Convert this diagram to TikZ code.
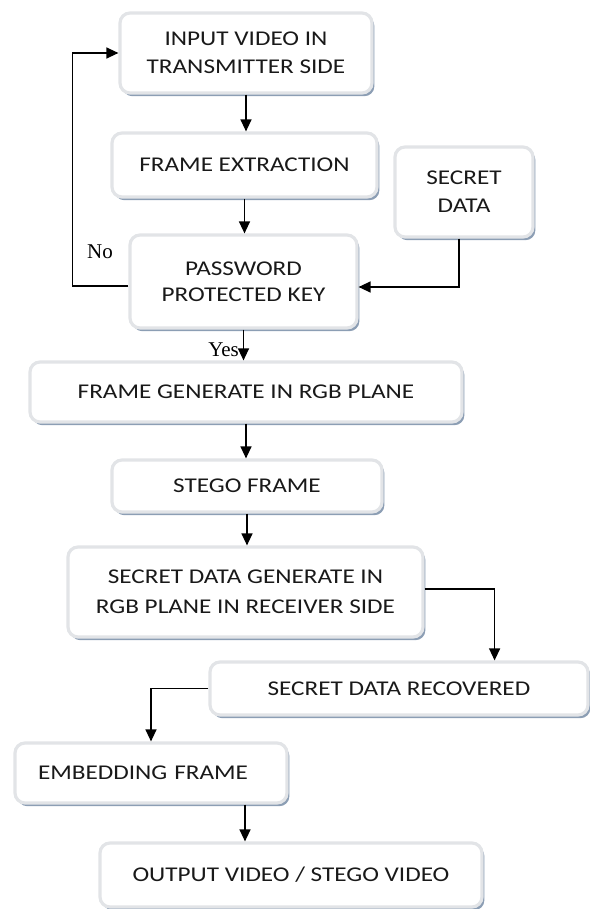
\documentclass[tikz,border=0pt]{standalone}
\usepackage{fontspec}
\setmainfont{Carlito}[FakeStretch=1.2]
\newfontfamily\lblfont{Liberation Serif}
\usetikzlibrary{arrows.meta,shadows}

\definecolor{boxedge}{RGB}{226,228,231}
\definecolor{boxshade}{RGB}{140,158,180}

\tikzset{
  blk/.style={draw=boxedge, line width=1.6pt, fill=white, rounded corners=5pt,
    drop shadow={shadow xshift=1.2pt, shadow yshift=-1.6pt, fill=boxshade, opacity=1},
    align=center, inner sep=2pt, text=black!90,
    font=\fontsize{10.5}{14}\selectfont},
  arr/.style={-{Triangle[length=6pt,width=5.5pt]}, line width=0.65pt},
  lbl/.style={font=\lblfont\fontsize{10.5}{12}\selectfont, inner sep=2pt}
}

\begin{document}
\begin{tikzpicture}[x=0.5pt, y=-0.5pt]
  \useasboundingbox (0,0) rectangle (589,909);

  % Transmitter side boxes
  \node[blk, minimum width=126pt, minimum height=40pt] (input) at (246,53) {INPUT VIDEO IN\\TRANSMITTER SIDE};
  \node[blk, minimum width=132.5pt, minimum height=32pt] (frameex) at (244.5,165) {FRAME EXTRACTION};
  \node[blk, minimum width=69pt, minimum height=45pt] (secret) at (464,192) {SECRET\\DATA};
  \node[blk, minimum width=113.5pt, minimum height=46.5pt, font=\fontsize{10.5}{13}\selectfont] (password) at (243.5,281.5) {PASSWORD\\PROTECTED KEY};
  \node[blk, minimum width=216pt, minimum height=30pt] (rgb) at (246,392) {FRAME GENERATE IN RGB PLANE};
  \node[blk, minimum width=135pt, minimum height=26pt] (stego) at (247,486) {STEGO FRAME};

  % Receiver side boxes
  \node[blk, minimum width=177.5pt, minimum height=45pt, font=\fontsize{10.5}{15}\selectfont] (secgen) at (245.5,592) {SECRET DATA GENERATE IN\\RGB PLANE IN RECEIVER SIDE};
  \node[blk, minimum width=189pt, minimum height=26.5pt] (recov) at (399,688.5) {SECRET DATA RECOVERED};
  \node[blk, text width=113pt, inner xsep=11.5pt, align=left, minimum height=30pt] (embed) at (151,773) {EMBEDDING FRAME};
  \node[blk, minimum width=191pt, minimum height=32pt] (output) at (291,875) {OUTPUT VIDEO / STEGO VIDEO};

  % Main flow
  \draw[arr] (input.south) -- (input.south |- frameex.north);
  \draw[arr] (frameex.south) -- (frameex.south |- password.north);
  \draw[arr] ([xshift=-2.5pt]secret.south) |- ([yshift=-2.75pt]password.east);
  \draw[arr] (password.south) -- (password.south |- rgb.north) node[pos=0.65, left, lbl] (yeslbl) {Yes};
  \draw[arr] (rgb.south) -- (rgb.south |- stego.north);
  \draw[arr] (stego.south) -- (stego.south |- secgen.north);

  % Loop back when key fails
  \draw[arr] ([yshift=-2.25pt]password.west) -- ++(-56,0) |- (input.west);
  \node[lbl] (nolbl) at (100,252) {No};

  % Receiver flow
  \draw[arr] ([yshift=1.5pt]secgen.east) -- ++(70,0) coordinate (c1) -- (c1 |- recov.north);
  \draw[arr] (recov.west) -| (embed.north);
  \draw[arr] ([xshift=47pt]embed.south) -- ([xshift=47pt]embed.south |- output.north);

\end{tikzpicture}
\end{document}
